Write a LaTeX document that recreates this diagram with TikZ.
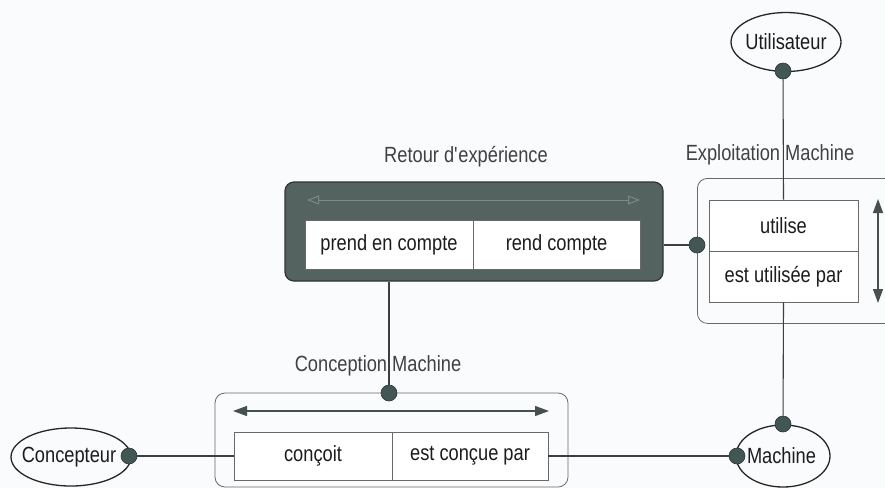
\documentclass[tikz,border=0pt]{standalone}
\usepackage{fontspec}
\setmainfont{Liberation Sans}[FakeStretch=0.83]
\usetikzlibrary{shapes.geometric,arrows.meta}
\definecolor{bg}{RGB}{249,251,253}
\definecolor{linec}{RGB}{62,62,62}
\definecolor{boxc}{RGB}{105,105,105}
\definecolor{darkfill}{RGB}{84,98,96}
\definecolor{darkedge}{RGB}{45,52,51}
\definecolor{dotc}{RGB}{66,86,84}
\definecolor{arrc}{RGB}{70,80,78}
\definecolor{farr}{RGB}{125,137,135}
\definecolor{txt}{RGB}{28,28,28}
\definecolor{lblc}{RGB}{65,65,65}
\begin{document}
\begin{tikzpicture}[x=1pt,y=-1pt,
  every node/.style={font=\fontsize{22}{26}\selectfont, text=txt},
  actor/.style={ellipse, draw=black!85, line width=1.3pt, inner sep=0pt},
  cellbox/.style={rectangle, draw=boxc, fill=white, line width=0.8pt, inner sep=0pt},
  container/.style={rectangle, draw=boxc, rounded corners=10pt, line width=0.8pt, inner sep=0pt},
  darkbox/.style={rectangle, draw=darkedge, fill=darkfill, rounded corners=9pt, line width=1.2pt, inner sep=0pt},
  dotn/.style={circle, fill=dotc, draw=darkedge, line width=0.6pt, minimum size=16pt, inner sep=0pt},
  conn/.style={draw=linec, line width=1.1pt},
  lbltext/.style={text=lblc, inner sep=0pt},
  dblarrow/.style={draw=arrc, line width=1.2pt, arrows={Triangle[length=14pt,width=10pt]-Triangle[length=14pt,width=10pt]}},
  faintarrow/.style={draw=farr, line width=1pt, arrows={Triangle[open,length=12pt,width=9pt]-Triangle[open,length=12pt,width=9pt]}}
]
\fill[bg] (0,0) rectangle (885,488);
\useasboundingbox (0,0) rectangle (885,488);
\clip (0,0) rectangle (885,488);

% actors
\node[actor, minimum width=110pt, minimum height=59pt] (util) at (786,42) {\makebox[0pt]{Utilisateur}};
\node[actor, minimum width=120pt, minimum height=58pt] (conc) at (71,457) {\makebox[0pt]{\hspace*{-4pt}Concepteur}};
\node[actor, minimum width=94pt, minimum height=62pt] (mach) at (783,456) {\makebox[0pt]{\hspace*{-3pt}Machine}};

% containers
\node[container, minimum width=353pt, minimum height=94pt] (cbox) at (391.5,440) {};
\node[container, minimum width=220pt, minimum height=145pt, anchor=north west] (ebox) at (697,178) {};
\node[darkbox, minimum width=378pt, minimum height=99pt] (rbox) at (474,231.5) {};

% cells
\node[cellbox, minimum width=168pt, minimum height=49pt] (pec) at (389,244.5) {prend en compte};
\node[cellbox, minimum width=167pt, minimum height=49pt] (rc) at (556.5,244.5) {rend compte};
\node[cellbox, minimum width=158pt, minimum height=48pt] (cc) at (313,456) {conçoit};
\node[cellbox, minimum width=156pt, minimum height=48pt] (ecp) at (470,456) {est conçue par};
\node[cellbox, minimum width=149pt, minimum height=51pt] (uti) at (783.5,225.5) {utilise};
\node[cellbox, minimum width=149pt, minimum height=51pt] (eup) at (783.5,276.5) {est utilisée par};

% dots
\node[dotn] (dU) at (783,71) {};
\node[dotn] (dE) at (697,245) {};
\node[dotn] (dC) at (389,393) {};
\node[dotn] (dCo) at (129,456) {};
\node[dotn] (dMl) at (737,456) {};
\node[dotn] (dMt) at (783,424) {};

% connectors
\draw[conn] (dU) -- (uti.north);
\draw[conn] (eup.south) -- (dMt);
\draw[conn] (rbox.east |- dE) -- (dE);
\draw[conn] (dC |- rbox.south) -- (dC);
\draw[conn] (dCo) -- (cc.west);
\draw[conn] (ecp.east) -- (dMl);

% labels
\node[lbltext] (lR) at (466,157) {Retour d\textquotesingle expérience};
\node[lbltext] (lE) at (770,155) {Exploitation Machine};
\node[lbltext] (lC) at (378,366) {Conception Machine};

% arrows
\coordinate (ra1) at (307,200);
\coordinate (ra2) at (640,200);
\draw[faintarrow] (ra1) -- (ra2);
\coordinate (ca1) at (233,411);
\coordinate (ca2) at (549,411);
\draw[dblarrow] (ca1) -- (ca2);
\coordinate (ea1) at (878,199);
\coordinate (ea2) at (878,303);
\draw[dblarrow] (ea1) -- (ea2);
\end{tikzpicture}
\end{document}
